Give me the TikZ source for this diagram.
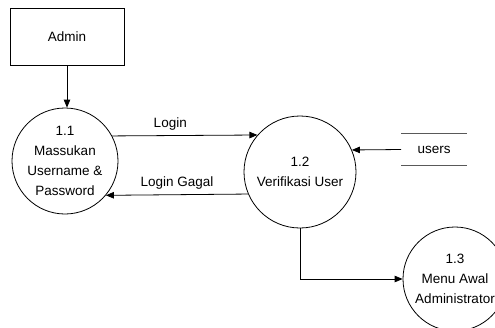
\documentclass[tikz,border=0pt]{standalone}
\usepackage{fontspec}
\setmainfont{Liberation Sans}
\usetikzlibrary{positioning}
\usetikzlibrary{arrows.meta}
\usetikzlibrary{calc}

\tikzset{
  proc/.style={circle,draw,minimum size=#1,inner sep=0pt,align=center},
  entity/.style={rectangle,draw,minimum width=114pt,minimum height=57pt},
  store/.style={minimum width=65pt,minimum height=31pt,inner sep=0pt},
  flowlabel/.style={above=5pt,inner sep=0pt},
}

\begin{document}
\begin{tikzpicture}[x=1pt,y=-1pt,line width=0.8pt,
    >={Triangle[length=8pt,width=6.5pt]},
    font=\fontsize{13.5}{20}\selectfont]
   \clip (0,0) rectangle (495,327);
   \node[entity] (admin) at (67,36.5) {Admin};
   \node[proc=106pt] (p11) at (65,161) {1.1\\Massukan\\Username \&\\Password};
   \node[proc=112pt] (p12) at (300,172) {1.2\\Verifikasi User};
   \node[proc=104pt] (p13) at (455,279) {1.3\\Menu Awal\\Administrator};
   \node[store] (users) at (434,149.5) {users};
   % data store lines
   \draw[line width=1.2pt,gray!70!black]
     (users.north west) -- (users.north east)
     (users.south west) -- (users.south east);
    \path[->]
    (admin) edge (admin |- p11.north)
    (p11.28) edge node[flowlabel,pos=0.4] {Login} (p12.139)
    (p12.203) edge node[flowlabel] {Login Gagal} (p11.-40)
    (users.west) edge (p12.23);
    \draw[->] (p12) |- (p13);
\end{tikzpicture}
\end{document}
